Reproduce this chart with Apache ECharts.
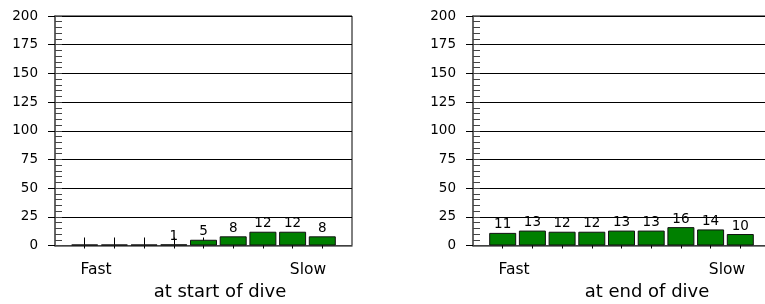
<!DOCTYPE html>
<html>
<head>
<meta charset="utf-8">
<script src="https://cdn.jsdelivr.net/npm/echarts@6/dist/echarts.min.js"></script>
<style>html,body{margin:0;padding:0;background:#fff;}#c{width:765px;height:304px;}</style>
</head>
<body>
<div id="c"></div>
<script>
// Speed bins (fast -> slow), padded with empty slots at both ends
const bins = ['1', '2', '3', '4', '5', '6', '7', '8', '9'];
const startValues = [0, 0, 0, 1, 5, 8, 12, 12, 8];
const endValues = [11, 13, 12, 12, 13, 13, 16, 14, 10];
const yTicks = [0, 25, 50, 75, 100, 125, 150, 175, 200];
const panelTitles = ['at start of dive', 'at end of dive'];
const endLabels = ['Fast', 'Slow'];

const FONT = 'DejaVu Sans';
const cats = [''].concat(bins).concat(['']);
const pad = v => ['-'].concat(v).concat(['-']);

const grids = [
  {left: 55, width: 297, top: 16, bottom: 58.5},
  {left: 473, width: 297, top: 16, bottom: 58.5}
];

const xAxis = [], yAxis = [], series = [];
grids.forEach((g, i) => {
  xAxis.push({
    type: 'category', gridIndex: i, data: cats, boundaryGap: false, position: 'bottom',
    axisLine: {show: true, lineStyle: {color: '#555', width: 1.5}},
    axisTick: {show: true, inside: true, length: 8, lineStyle: {color: '#000'},
      interval: (idx) => idx > 0 && idx < cats.length - 1},
    axisLabel: {show: false}, splitLine: {show: false}
  });
  xAxis.push({
    type: 'category', gridIndex: i, data: cats, boundaryGap: false, position: 'bottom',
    axisLine: {show: false},
    axisTick: {show: true, inside: false, length: 3, lineStyle: {color: '#000'},
      interval: (idx) => idx > 0 && idx < cats.length - 1},
    axisLabel: {show: false}, splitLine: {show: false}
  });
  yAxis.push({
    type: 'value', gridIndex: i, min: yTicks[0], max: yTicks[yTicks.length - 1],
    interval: yTicks[1] - yTicks[0], position: 'left',
    axisLine: {show: true, lineStyle: {color: '#666', width: 2}},
    axisTick: {show: true, inside: false, length: 7, lineStyle: {color: '#000'}},
    axisLabel: {show: true, margin: 17, color: '#000', fontFamily: FONT, fontSize: 13.5},
    splitLine: {show: true, lineStyle: {color: '#000', width: 1}}
  });
  yAxis.push({
    type: 'value', gridIndex: i, min: yTicks[0], max: yTicks[yTicks.length - 1],
    interval: 5, position: 'left',
    axisLine: {show: false},
    axisTick: {show: true, inside: true, length: 7, lineStyle: {color: '#444'}},
    axisLabel: {show: false}, splitLine: {show: false}
  });
  series.push({
    type: 'bar', xAxisIndex: i * 2, yAxisIndex: i * 2,
    data: pad(i === 0 ? startValues : endValues),
    barWidth: 27, barMinHeight: 1,
    itemStyle: {color: '#008000', borderColor: '#111', borderWidth: 1},
    label: {show: true, position: 'top', distance: 1, color: '#000',
      fontFamily: FONT, fontSize: 13.5,
      formatter: p => (p.value === 0 ? '' : String(p.value))},
    animation: false
  });
});

const txt = (x, y, text, size) => ({type: 'text', x: x, y: y,
  style: {text: text, font: size + 'px "' + FONT + '"', fill: '#000', align: 'center', verticalAlign: 'middle'}});

const chart = echarts.init(document.getElementById('c'), null, {renderer: 'canvas'});
chart.setOption({
  animation: false,
  grid: grids.map(g => Object.assign({show: true, borderColor: '#000', borderWidth: 1,
    backgroundColor: 'transparent', containLabel: false, outerBoundsMode: 'none'}, g)),
  xAxis: xAxis, yAxis: yAxis, series: series,
  graphic: {elements: [
    txt(96, 270, endLabels[0], 15.5),
    txt(308, 270, endLabels[1], 15.5),
    txt(514, 270, endLabels[0], 15.5),
    txt(727, 270, endLabels[1], 15.5),
    txt(220, 292, panelTitles[0], 18),
    txt(647, 292, panelTitles[1], 18)
  ]}
});
</script>
</body>
</html>
